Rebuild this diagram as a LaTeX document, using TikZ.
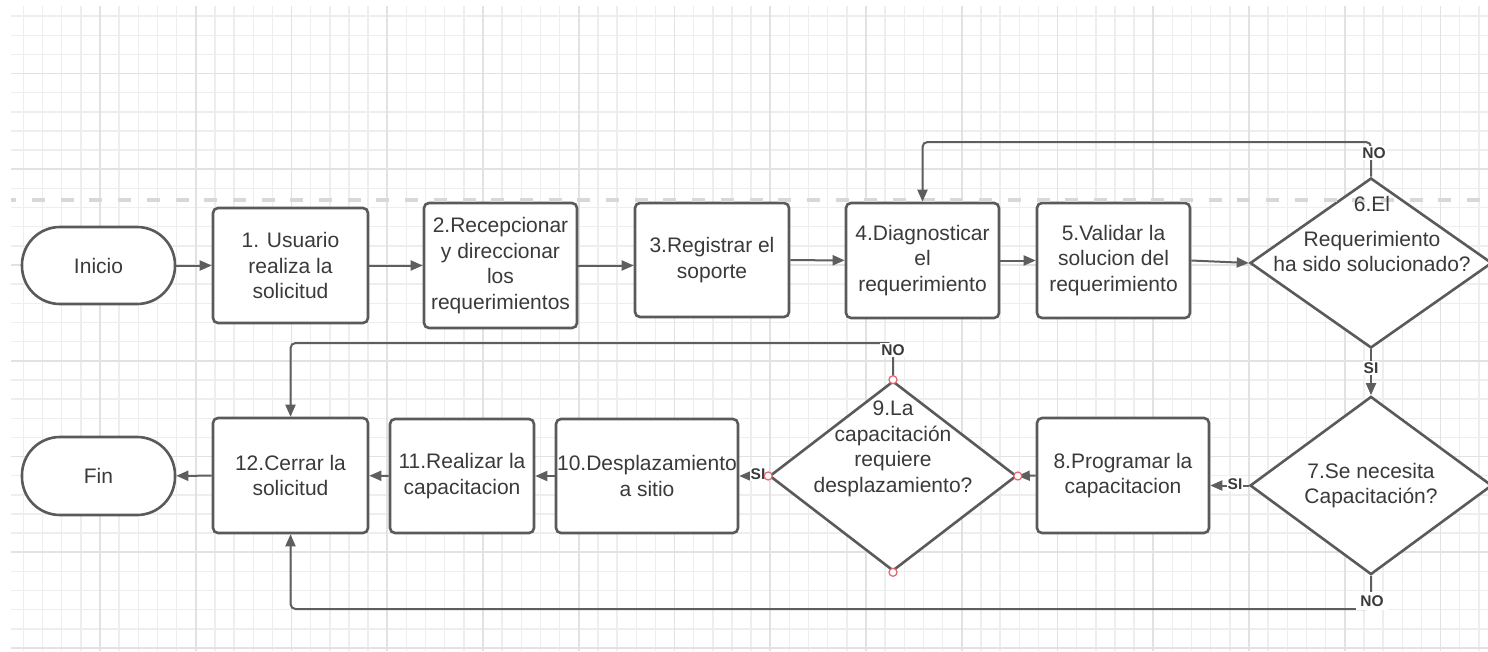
\documentclass[tikz,border=0pt]{standalone}
\usepackage{fontspec}
\setmainfont{Liberation Sans}
\usetikzlibrary{shapes.geometric,arrows.meta}
\definecolor{gridminor}{HTML}{EEEEEE}
\definecolor{gridmajor}{HTML}{E2E2E2}
\definecolor{shapeline}{HTML}{5A5A5A}
\definecolor{connline}{HTML}{5E5E5E}
\definecolor{txt}{HTML}{3A3A3A}
\definecolor{pagebreak}{HTML}{D8D8D8}
\definecolor{conpt}{HTML}{E8646E}
\newcommand{\mainfs}{\fontsize{21}{25.5}\selectfont}
\newcommand{\labfs}{\bfseries\fontsize{15.5}{18}\selectfont}
\begin{document}
\begin{tikzpicture}[x=1pt,y=-1pt,
  proc/.style={draw=shapeline, line width=2.6pt, rounded corners=5pt, fill=white, align=center, text=txt, font=\mainfs, inner sep=0pt},
  term/.style={draw=shapeline, line width=2.6pt, rounded corners=38pt, fill=white, text=txt, font=\mainfs, minimum width=153pt, minimum height=77pt},
  dec/.style={diamond, draw=shapeline, line width=2.6pt, fill=white, inner sep=0pt, text=txt, align=center, font=\mainfs},
  dtext/.style={text=txt, align=center, font=\mainfs, inner sep=0pt},
  conn/.style={draw=connline, line width=2pt, -{Triangle[length=12pt,width=10pt]}},
  lab/.style={font=\labfs, text=txt, fill=white, inner xsep=1pt, inner ysep=1.5pt},
  cpt/.style={circle, draw=conpt, fill=white, line width=1.2pt, minimum size=8pt, inner sep=0pt}]
\useasboundingbox (0,0) rectangle (1488,651);
\fill[white] (0,0) rectangle (1488,651);
% grid
\foreach \i in {-4,...,72} \draw[gridminor,line width=1.4pt] ({100+19.15*\i},6) -- ({100+19.15*\i},651);
\foreach \j in {-3,...,30} \draw[gridminor,line width=1.4pt] (11,{73.5+19.15*\j}) -- (1488,{73.5+19.15*\j});
\foreach \i in {0,...,14} \draw[gridmajor,line width=1.8pt] ({100+95.75*\i},6) -- ({100+95.75*\i},651);
\foreach \j in {0,...,6} \draw[gridmajor,line width=1.8pt] (11,{73.5+95.75*\j}) -- (1488,{73.5+95.75*\j});

% shapes
\node[term] (start) at (98.5,265.5) {Inicio};
\node[proc, minimum width=155pt, minimum height=115pt] (b1) at (290.5,265.5) {1. Usuario\\realiza la\\solicitud};
\node[proc, minimum width=153pt, minimum height=125pt] (b2) at (500.5,265.5) {2.Recepcionar\\y direccionar\\los\\requerimientos};
\node[proc, minimum width=154pt, minimum height=114pt] (b3) at (712,260) {3.Registrar el\\soporte};
\node[proc, minimum width=153pt, minimum height=115pt] (b4) at (922.5,260.5) {4.Diagnosticar\\el\\requerimiento};
\node[proc, minimum width=153pt, minimum height=115pt] (b5) at (1113.5,260.5) {5.Validar la\\solucion del\\requerimiento};
\node[dec, minimum width=242pt, minimum height=170pt] (d6) at (1371,263) {};
\node[dec, minimum width=242pt, minimum height=169pt] (d7) at (1371,485.5) {7.Se necesita\\Capacitación?};
\node[proc, minimum width=172pt, minimum height=115pt] (b8) at (1123,475.5) {8.Programar la\\capacitacion};
\node[dec, minimum width=247pt, minimum height=190pt] (d9) at (893,476) {};
\node[proc, minimum width=182pt, minimum height=114pt] (b10) at (647,476) {10.Desplazamiento\\a sitio};
\node[proc, minimum width=144pt, minimum height=114pt] (b11) at (462,476) {11.Realizar la\\capacitacion};
\node[proc, minimum width=155pt, minimum height=115pt] (b12) at (290.5,475.5) {12.Cerrar la\\solicitud};
\node[term, minimum height=78pt] (fin) at (98.5,476) {Fin};

% page break line
\draw[pagebreak, line width=3.5pt, dash pattern=on 13pt off 15.7pt, dash phase=7.7pt] (11,200) -- (1488,200);

% diamond texts
\node[dtext] (t6) at (1372,234) {6.El\\[9pt]Requerimiento\\ha sido solucionado?};
\node[dtext] (t9) at (893,449) {9.La\\capacitación\\requiere\\desplazamiento?};

% helper rows
\coordinate (row1) at (0,142);
\coordinate (row3) at (0,343);
\coordinate (row4) at (0,609);

% connectors
\draw[conn] (start) -- (b1);
\draw[conn] (b1) -- (b2);
\draw[conn] (b2.east) -- (b2.east -| b3.west);
\draw[conn] (b3) -- (b4);
\draw[conn] (b4) -- (b5);
\draw[conn] (b5.east) -- (d6.west);
\draw[conn, rounded corners=5pt] (d6.north) |- (b4.north |- row1) -- (b4.north);
\draw[conn] (d6.south) -- (d7.north);
\draw[conn] (d7.west) -- (d7.west -| b8.east);
\draw[conn, rounded corners=5pt] (d7.south) |- (b12.south |- row4) -- (b12.south);
\draw[conn] (b8.west) -- (d9.east);
\draw[conn] (d9.west) -- (b10.east);
\draw[conn, rounded corners=5pt] (d9.north) |- (b12.north |- row3) -- (b12.north);
\draw[conn] (b10) -- (b11);
\draw[conn] (b11) -- (b12);
\draw[conn] (b12) -- (fin);

% labels
\node[lab] (no6) at (1374,153) {NO};
\node[lab] (si6) at (1371,368) {SI};
\node[lab] (si7) at (1235,484) {SI};
\node[lab, inner ysep=4pt, inner xsep=4pt] (no7) at (1372,601) {NO};
\node[lab] (no9) at (893,350) {NO};
\node[lab] (si9) at (758,474) {SI};

% connection points on diamond 9
\node[cpt] (p9n) at (d9.north) {};
\node[cpt] (p9s) at (d9.south) {};
\node[cpt] (p9e) at (d9.east) {};
\node[cpt] (p9w) at (d9.west) {};
\end{tikzpicture}
\end{document}
